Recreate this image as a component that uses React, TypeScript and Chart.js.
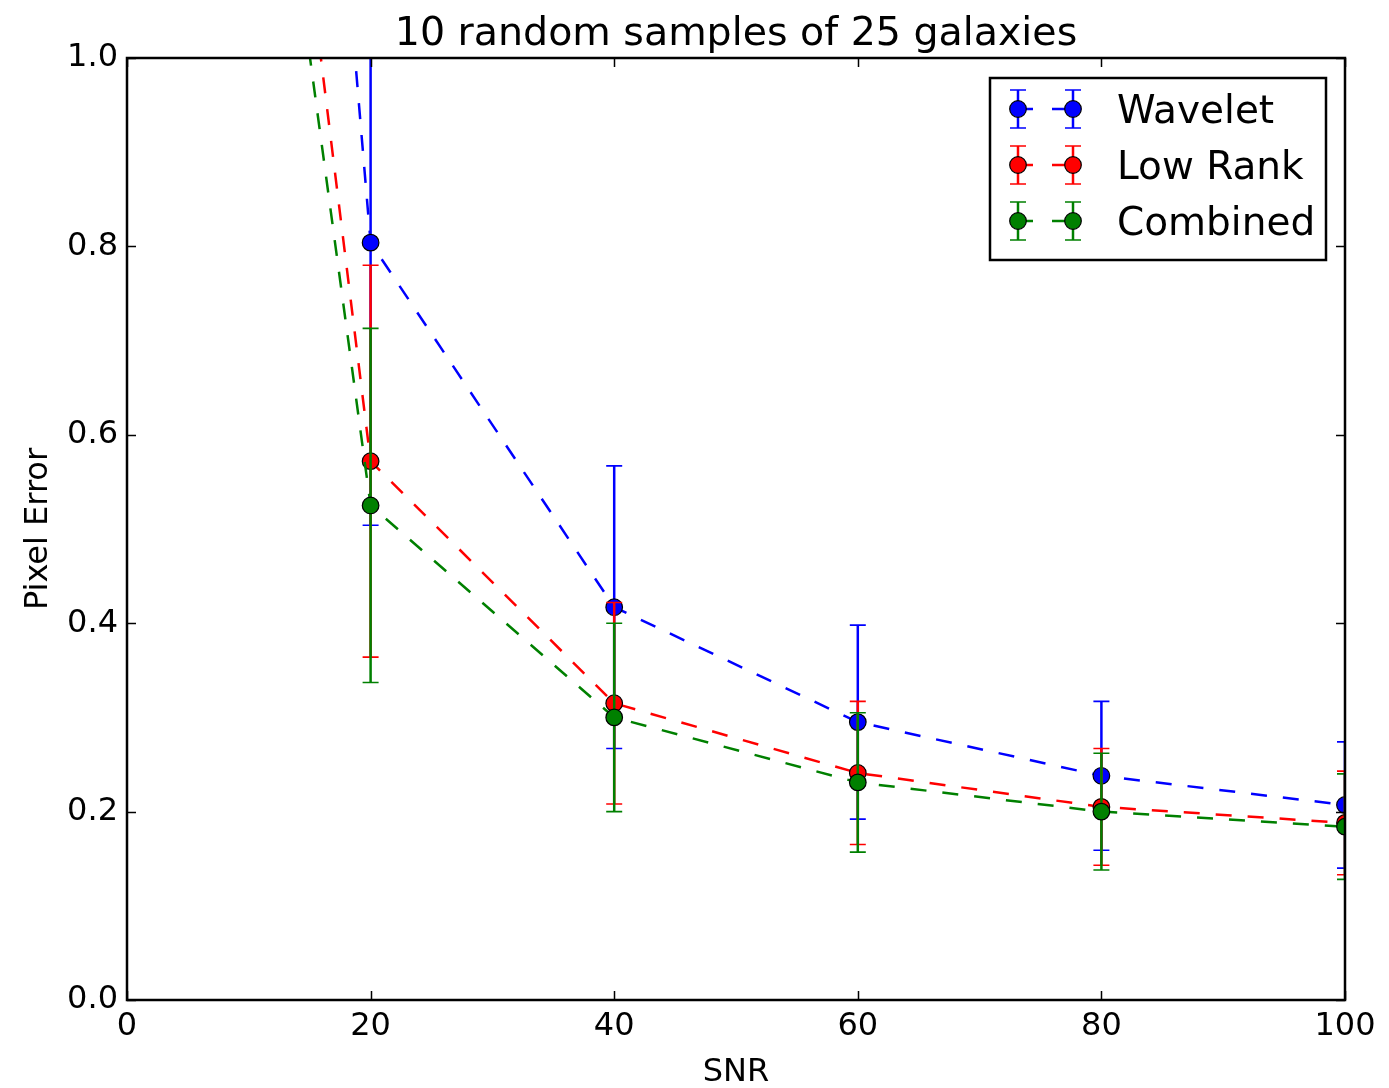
import React, { useEffect, useRef } from 'react';
import { Chart, registerables } from 'chart.js';

Chart.register(...registerables);

// ---- data ----
const snr = [10, 20, 40, 60, 80, 100];
const waveletMean = [2.34, 0.804, 0.417, 0.295, 0.238, 0.207];
const waveletStd = [0.6, 0.3, 0.15, 0.103, 0.079, 0.067];
const lowRankMean = [1.62, 0.572, 0.315, 0.241, 0.205, 0.188];
const lowRankStd = [0.4, 0.208, 0.107, 0.076, 0.062, 0.055];
const combinedMean = [1.48, 0.525, 0.3, 0.231, 0.2, 0.184];
const combinedStd = [0.35, 0.188, 0.1, 0.074, 0.062, 0.056];
const seriesNames = ['Wavelet', 'Low Rank', 'Combined'];
const seriesColors = ['#0000ff', '#ff0000', '#008000'];
const xTicks = [0, 20, 40, 60, 80, 100];
const yTicks = [0, 0.2, 0.4, 0.6, 0.8, 1.0];
const titleText = '10 random samples of 25 galaxies';
const xTitle = 'SNR';
const yTitle = 'Pixel Error';

const FONT = "'DejaVu Sans', 'Liberation Sans', sans-serif";
const DASH = [16, 16];

const errorBarPlugin = {
  id: 'errorBars',
  beforeDatasetDraw(chart: any, args: any) {
    const ds = chart.data.datasets[args.index];
    const errs: number[] = ds.errors;
    const { ctx, chartArea, scales } = chart;
    const x = scales.x;
    const y = scales.y;
    ctx.save();
    ctx.beginPath();
    ctx.rect(chartArea.left, chartArea.top, chartArea.right - chartArea.left, chartArea.bottom - chartArea.top);
    ctx.clip();
    ctx.strokeStyle = ds.borderColor;
    ctx.setLineDash([]);
    ds.data.forEach((p: any, i: number) => {
      const px = x.getPixelForValue(p.x);
      const top = y.getPixelForValue(p.y + errs[i]);
      const bot = y.getPixelForValue(p.y - errs[i]);
      ctx.lineWidth = 2.5;
      ctx.beginPath();
      ctx.moveTo(px, top);
      ctx.lineTo(px, bot);
      ctx.stroke();
      ctx.lineWidth = 1.6;
      ctx.beginPath();
      ctx.moveTo(px - 8, top);
      ctx.lineTo(px + 8, top);
      ctx.moveTo(px - 8, bot);
      ctx.lineTo(px + 8, bot);
      ctx.stroke();
    });
    ctx.restore();
  },
};

const decorPlugin = {
  id: 'decor',
  afterDatasetsDraw(chart: any) {
    const { ctx, chartArea, scales } = chart;
    const { left, right, top, bottom } = chartArea;
    const x = scales.x;
    const y = scales.y;
    ctx.save();
    ctx.setLineDash([]);
    ctx.strokeStyle = '#000';
    // tick marks (inward, all sides)
    ctx.lineWidth = 1.5;
    const tl = 9;
    ctx.beginPath();
    xTicks.forEach((v) => {
      const px = Math.round(x.getPixelForValue(v)) + 0.5;
      ctx.moveTo(px, bottom);
      ctx.lineTo(px, bottom - tl);
      ctx.moveTo(px, top);
      ctx.lineTo(px, top + tl);
    });
    yTicks.forEach((v) => {
      const py = Math.round(y.getPixelForValue(v)) + 0.5;
      ctx.moveTo(left, py);
      ctx.lineTo(left + tl, py);
      ctx.moveTo(right, py);
      ctx.lineTo(right - tl, py);
    });
    ctx.stroke();
    // frame
    ctx.lineWidth = 2.5;
    ctx.strokeRect(left, top, right - left, bottom - top);

    // title
    ctx.fillStyle = '#000';
    ctx.textAlign = 'center';
    ctx.textBaseline = 'alphabetic';
    ctx.font = `39.5px ${FONT}`;
    ctx.fillText(titleText, (left + right) / 2, 45);
    // axis titles
    ctx.font = `32px ${FONT}`;
    ctx.fillText(xTitle, (left + right) / 2, 1081);
    ctx.save();
    ctx.translate(47, (top + bottom) / 2);
    ctx.rotate(-Math.PI / 2);
    ctx.fillText(yTitle, 0, 0);
    ctx.restore();

    // legend
    const bx = right - 355;
    const by = top + 20;
    const bw = 336;
    const bh = 182;
    ctx.fillStyle = '#fff';
    ctx.fillRect(bx, by, bw, bh);
    ctx.lineWidth = 2.5;
    ctx.strokeStyle = '#000';
    ctx.strokeRect(bx, by, bw, bh);
    seriesNames.forEach((name, i) => {
      const cy = by + 31 + i * 56;
      const m1 = bx + 28;
      const m2 = bx + 83;
      const col = seriesColors[i];
      ctx.strokeStyle = col;
      // dashed line
      ctx.lineWidth = 2.5;
      ctx.setLineDash([15, 19]);
      ctx.beginPath();
      ctx.moveTo(m1, cy);
      ctx.lineTo(m2, cy);
      ctx.stroke();
      ctx.setLineDash([]);
      [m1, m2].forEach((mx) => {
        ctx.strokeStyle = col;
        ctx.lineWidth = 2.5;
        ctx.beginPath();
        ctx.moveTo(mx, cy - 19);
        ctx.lineTo(mx, cy + 19);
        ctx.stroke();
        ctx.lineWidth = 1.6;
        ctx.beginPath();
        ctx.moveTo(mx - 8, cy - 19);
        ctx.lineTo(mx + 8, cy - 19);
        ctx.moveTo(mx - 8, cy + 19);
        ctx.lineTo(mx + 8, cy + 19);
        ctx.stroke();
        ctx.beginPath();
        ctx.arc(mx, cy, 8.3, 0, Math.PI * 2);
        ctx.fillStyle = col;
        ctx.fill();
        ctx.lineWidth = 1.2;
        ctx.strokeStyle = '#000';
        ctx.stroke();
      });
      ctx.fillStyle = '#000';
      ctx.textAlign = 'left';
      ctx.textBaseline = 'alphabetic';
      ctx.font = `39px ${FONT}`;
      ctx.fillText(name, bx + 127, cy + 14);
    });
    ctx.restore();
  },
};

export default function App() {
  const ref = useRef<HTMLCanvasElement>(null);
  useEffect(() => {
    if (!ref.current) return;
    const means = [waveletMean, lowRankMean, combinedMean];
    const stds = [waveletStd, lowRankStd, combinedStd];
    const datasets = seriesNames.map((name, i) => ({
      label: name,
      data: snr.map((s, j) => ({ x: s, y: means[i][j] })),
      errors: stds[i],
      borderColor: seriesColors[i],
      backgroundColor: seriesColors[i],
      borderWidth: 2.5,
      borderDash: DASH,
      pointRadius: 8.3,
      pointHoverRadius: 8.3,
      pointBackgroundColor: seriesColors[i],
      pointBorderColor: '#000',
      pointBorderWidth: 1.2,
      tension: 0,
      fill: false,
      order: 3 - i,
    }));
    const chart = new Chart(ref.current, {
      type: 'line',
      data: { datasets } as any,
      options: {
        animation: false,
        responsive: true,
        maintainAspectRatio: false,
        events: [],
        layout: { padding: { top: 58, right: 44, bottom: 0, left: 0 } },
        plugins: {
          legend: { display: false },
          title: { display: false },
          tooltip: { enabled: false },
        },
        scales: {
          x: {
            type: 'linear',
            min: 0,
            max: 100,
            grid: { display: false, drawTicks: false },
            border: { display: false },
            afterBuildTicks: (s: any) => {
              s.ticks = xTicks.map((v) => ({ value: v }));
            },
            afterFit: (s: any) => {
              s.height = 88;
              s.paddingLeft = 0;
              s.paddingRight = 0;
              s.paddingTop = 0;
              s.paddingBottom = 0;
            },
            ticks: {
              color: '#000',
              font: { family: FONT, size: 32 },
              padding: 7,
              maxRotation: 0,
              autoSkip: false,
              callback: (v: any) => String(v),
            },
          },
          y: {
            type: 'linear',
            min: 0,
            max: 1,
            grid: { display: false, drawTicks: false },
            border: { display: false },
            afterBuildTicks: (s: any) => {
              s.ticks = yTicks.map((v) => ({ value: v }));
            },
            afterFit: (s: any) => {
              s.width = 127;
              s.paddingLeft = 0;
              s.paddingRight = 0;
              s.paddingTop = 0;
              s.paddingBottom = 0;
            },
            ticks: {
              color: '#000',
              font: { family: FONT, size: 32 },
              padding: 9,
              autoSkip: false,
              callback: (v: any) => Number(v).toFixed(1),
            },
          },
        },
      } as any,
      plugins: [errorBarPlugin, decorPlugin],
    });
    return () => chart.destroy();
  }, []);
  return (
    <div style={{ position: 'fixed', left: 0, top: 0, width: 1389, height: 1088, background: '#fff' }}>
      <canvas ref={ref} />
    </div>
  );
}
